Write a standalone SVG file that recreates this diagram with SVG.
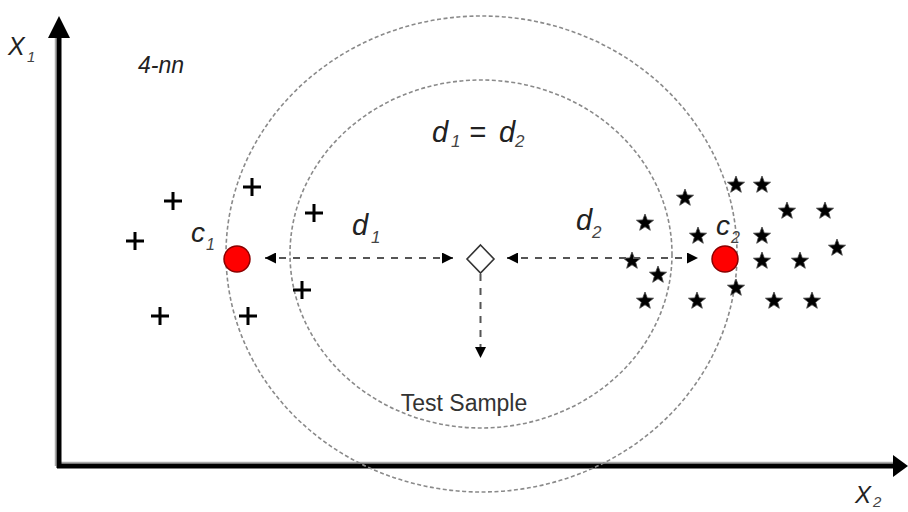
<svg xmlns="http://www.w3.org/2000/svg" width="908" height="512" viewBox="0 0 908 512">
<defs>
<style>
.lbl{font-family:"Liberation Sans",Arial,sans-serif;font-style:italic;fill:#222}
.sub{font-family:"Liberation Sans",Arial,sans-serif;font-style:italic;fill:#444}
.ring{fill:none;stroke:#8a8a8a;stroke-width:1.6;stroke-dasharray:4 2.5}
.dash{fill:none;stroke:#555;stroke-width:2;stroke-dasharray:7 7}
.plus{fill:none;stroke:#000;stroke-width:3}
.star{fill:#000;stroke:#444;stroke-width:0.8}
.cent{fill:#ff0000;stroke:#8b0000;stroke-width:1.5}
</style>
<marker id="ah" viewBox="0 0 10 10" refX="10" refY="5" markerWidth="11" markerHeight="11" markerUnits="userSpaceOnUse" orient="auto-start-reverse">
<path d="M0,0 L10,5 L0,10 z" fill="#000"/>
</marker>
<path id="p" class="plus" d="M-9,0 H9 M0,-9 V9"/>
<polygon id="s" class="star" points="0,-9 2.3,-3.1 8.56,-2.78 3.65,1.2 5.29,7.28 0,3.85 -5.29,7.28 -3.65,1.2 -8.56,-2.78 -2.3,-3.1"/>
</defs>
<rect width="908" height="512" fill="#fff"/>

<g id="axes">
<line x1="55.5" y1="36" x2="55.5" y2="466" stroke="#aaa" stroke-width="1.5"/>
<line x1="57" y1="462.5" x2="893" y2="462.5" stroke="#aaa" stroke-width="1.5"/>
<line x1="59" y1="36" x2="59" y2="468" stroke="#000" stroke-width="5"/>
<line x1="57" y1="466" x2="895" y2="466" stroke="#000" stroke-width="5"/>
<polygon points="59,16 48,38 70,38" fill="#000"/>
<polygon points="908,466 893,455 893,477" fill="#000"/>
<text class="lbl" x="8" y="55" font-size="25">X</text>
<text class="sub" x="27" y="62" font-size="15">1</text>
<text class="lbl" x="855" y="503" font-size="24">X</text>
<text class="sub" x="873" y="507" font-size="15">2</text>
</g>

<g id="label-knn"><text class="lbl" x="138" y="73" font-size="23" fill="#333">4-nn</text></g>

<g id="outer-circle"><ellipse class="ring" cx="481.5" cy="254" rx="255.5" ry="238"/></g>
<g id="inner-circle"><ellipse class="ring" cx="481" cy="254" rx="191" ry="174"/></g>

<g id="label-eq">
<text class="lbl" x="432" y="142" font-size="29">d</text>
<text class="sub" x="451" y="147" font-size="17">1</text>
<text class="lbl" x="469" y="142" font-size="29" font-style="normal">=</text>
<text class="lbl" x="499" y="142" font-size="29">d</text>
<text class="sub" x="515" y="147" font-size="17">2</text>
</g>

<g id="class1-points">
<use href="#p" x="173" y="201"/>
<use href="#p" x="135" y="241"/>
<use href="#p" x="252" y="187"/>
<use href="#p" x="314" y="213"/>
<use href="#p" x="302" y="290"/>
<use href="#p" x="160" y="316"/>
<use href="#p" x="248" y="316"/>
</g>

<g id="class2-points">
<use href="#s" x="736" y="185"/>
<use href="#s" x="762" y="185"/>
<use href="#s" x="685" y="198"/>
<use href="#s" x="787" y="211"/>
<use href="#s" x="825" y="211"/>
<use href="#s" x="645" y="223"/>
<use href="#s" x="698" y="236"/>
<use href="#s" x="762" y="236"/>
<use href="#s" x="837" y="248"/>
<use href="#s" x="632" y="261"/>
<use href="#s" x="762" y="261"/>
<use href="#s" x="800" y="261"/>
<use href="#s" x="658" y="275"/>
<use href="#s" x="736" y="288"/>
<use href="#s" x="645" y="301"/>
<use href="#s" x="697" y="301"/>
<use href="#s" x="774" y="301"/>
<use href="#s" x="812" y="301"/>
</g>

<g id="c1">
<circle class="cent" cx="237" cy="259" r="13"/>
<text class="lbl" x="191" y="242" font-size="28">c</text>
<text class="sub" x="206" y="250" font-size="16">1</text>
</g>
<g id="c2">
<circle class="cent" cx="725" cy="259" r="13"/>
<text class="lbl" x="716" y="235" font-size="28">c</text>
<text class="sub" x="731" y="243" font-size="16">2</text>
</g>

<g id="test-sample">
<polygon points="480.5,245 494,259 480.5,273 467,259" fill="#fff" stroke="#333" stroke-width="1.6"/>
<text x="464" y="411" font-family="'Liberation Sans',Arial,sans-serif" font-size="23" fill="#333" text-anchor="middle">Test Sample</text>
</g>

<g id="connectors">
<line class="dash" x1="265" y1="258" x2="453" y2="258" marker-start="url(#ah)" marker-end="url(#ah)"/>
<line class="dash" x1="507" y1="258" x2="698" y2="258" marker-start="url(#ah)" marker-end="url(#ah)"/>
<line class="dash" x1="480.5" y1="274" x2="480.5" y2="358" marker-end="url(#ah)"/>
<text class="lbl" x="352" y="235" font-size="29">d</text>
<text class="sub" x="371" y="243" font-size="17">1</text>
<text class="lbl" x="576" y="230" font-size="29">d</text>
<text class="sub" x="592" y="238" font-size="17">2</text>
</g>
</svg>
